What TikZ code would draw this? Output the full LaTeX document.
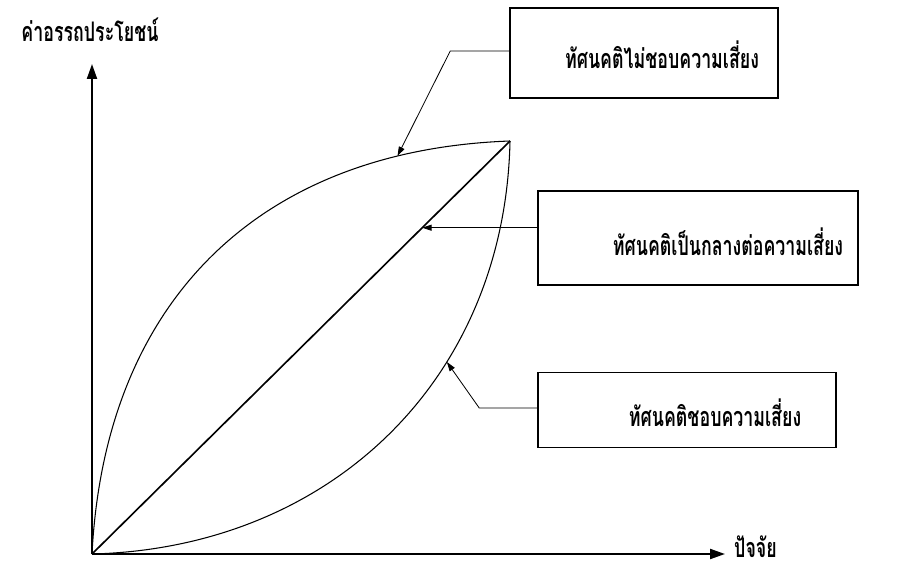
\documentclass[tikz,border=0pt]{standalone}
\usepackage{fontspec}
\newfontfamily\thaifont[Script=Thai,FakeStretch=0.66]{Loma}
\usetikzlibrary{arrows.meta}

\begin{document}
\begin{tikzpicture}[x=0.03cm,y=-0.03cm,
    axis/.style={line width=1.8pt,-{Triangle[length=0.45cm,width=0.3cm]}},
    curve/.style={line width=0.9pt},
    pointer/.style={line width=0.7pt,-{Triangle[length=0.28cm,width=0.18cm]}},
    attbox/.style={draw,line width=1.3pt,inner sep=0pt},
    thai/.style={font=\thaifont\bfseries\fontsize{23}{27}\selectfont,inner sep=0pt}]
  \useasboundingbox (0,0) rectangle (908,569);
  % axes
  \coordinate (O) at (92,554);
  \coordinate (T) at (510,141);
  \coordinate (yend) at (92,64);
  \coordinate (xend) at (725,554);
  \draw[axis] (O) -- (yend);
  \draw[axis] (O) -- (xend);
  \node[thai] (ylab) at (90,30) {ค่าอรรถประโยชน์};
  \node[thai,anchor=west] (xlab) at (734,547) {ปัจจัย};
  % utility curves
  \draw[curve] (O) .. controls (105,300) and (260,150) .. (T) coordinate[pos=0.84] (p1);
  \draw[line width=1.4pt] (O) -- (T) coordinate[pos=0.79] (p2);
  \draw[curve] (O) .. controls (330,548) and (505,380) .. (T) coordinate[pos=0.65] (p3);
  % boxes
  \node[attbox,minimum width=8.04cm,minimum height=2.7cm] (averse) at (644,53) {};
  \node[attbox,minimum width=9.6cm,minimum height=2.82cm] (neutral) at (698,238) {};
  \node[attbox,minimum width=8.94cm,minimum height=2.25cm] (lover) at (687,410) {};
  \node[thai] (averse text) at (662,55) {ทัศนคติไม่ชอบความเสี่ยง};
  \node[thai] (neutral text) at (728,242) {ทัศนคติเป็นกลางต่อความเสี่ยง};
  \node[thai] (lover text) at (715,413) {ทัศนคติชอบความเสี่ยง};
  % pointers
  \draw[pointer] (averse.west |- 0,51) -- ++(-59,0) -- (p1);
  \draw[pointer] (neutral.west |- p2) -- (p2);
  \draw[pointer] (lover.west |- 0,408) -- ++(-58,0) -- (p3);
\end{tikzpicture}
\end{document}
